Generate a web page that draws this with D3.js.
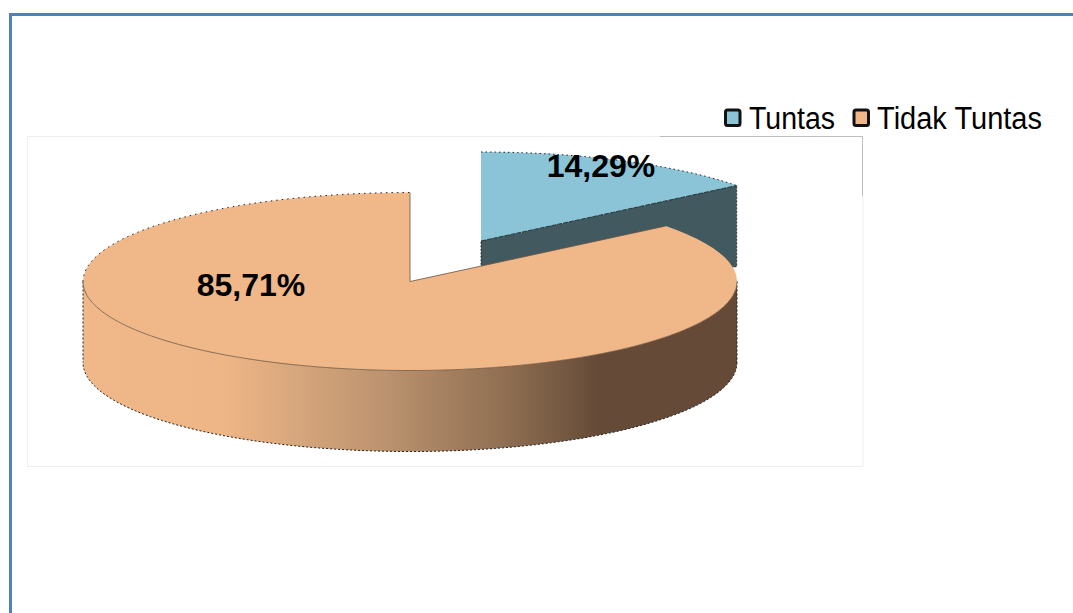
<!DOCTYPE html>
<html><head><meta charset="utf-8">
<script src="https://cdnjs.cloudflare.com/ajax/libs/d3/7.8.5/d3.min.js"></script>
<style>html,body{margin:0;padding:0;background:#fff;overflow:hidden}svg{display:block}text{font-family:"Liberation Sans",Arial,sans-serif}</style>
</head><body><svg width="1073" height="613"></svg>
<script>
const categories = ["Tuntas", "Tidak Tuntas"];
const values = [14.29, 85.71];
const labels = ["14,29%", "85,71%"];
const topColors = ["#8ac4d6", "#f0b888"];

const svg = d3.select("svg");
const rx = 327, ry = 89, depth = 81;
const centers = [{x: 481, y: 241}, {x: 410, y: 281.5}];
const labelPos = [{x: 601, y: 177}, {x: 251, y: 296}];

const defs = svg.append("defs");
const grad = defs.append("linearGradient").attr("id", "sideGrad").attr("gradientUnits", "userSpaceOnUse")
  .attr("x1", 83).attr("x2", 737).attr("y1", 0).attr("y2", 0);
[[0, "#f0b888"], [0.22, "#eeb586"], [0.33, "#d6a67c"], [0.454, "#bd9470"], [0.657, "#8c6c50"], [0.786, "#654b37"], [1, "#654b37"]]
  .forEach(([o, c]) => grad.append("stop").attr("offset", o).attr("stop-color", c));

// frame
svg.append("path").attr("d", "M10.5,613V14.5H1073").attr("fill", "none").attr("stroke", "#4f81bd").attr("stroke-width", 3);

// plot box
svg.append("path").attr("d", "M27.5,467V136.5H660").attr("fill", "none").attr("stroke", "#eeeeee");
svg.append("path").attr("d", "M27,466.5H863V196").attr("fill", "none").attr("stroke", "#eeeeee");
svg.append("path").attr("d", "M660,136.5H862.5V196").attr("fill", "none").attr("stroke", "#bdbdbd");

const pie = d3.pie().sort(null).value(d => d)(values);
const arc = d3.arc().innerRadius(0).outerRadius(rx);
const py = (c, a) => c.y - ry * Math.cos(a);
const px = (c, a) => c.x + rx * Math.sin(a);

function rimPoints(c, a0, a1) {
  return d3.range(0, 121).map(i => a0 + (a1 - a0) * i / 120).map(a => [px(c, a), py(c, a)]);
}
const line = d3.line();
const piece = svg.append("g");

// Tuntas: cut face and top
const c0 = centers[0], p0 = pie[0];
const endA = p0.endAngle;
piece.append("path")
  .attr("d", line([[c0.x, c0.y], [px(c0, endA), py(c0, endA)], [px(c0, endA), py(c0, endA) + depth], [c0.x, c0.y + depth]]) + "Z")
  .attr("fill", "#41595f").attr("stroke", "#222").attr("stroke-width", 0.8).attr("stroke-dasharray", "2 1.5");
piece.append("path")
  .attr("transform", `translate(${c0.x},${c0.y}) scale(1,${ry / rx})`)
  .attr("d", arc(p0)).attr("fill", topColors[0]);
piece.append("path").attr("d", line(rimPoints(c0, p0.startAngle, endA)))
  .attr("fill", "none").attr("stroke", "#222").attr("stroke-width", 1).attr("stroke-dasharray", "1.5 3");
piece.append("path").attr("d", line([[c0.x, c0.y], [px(c0, endA), py(c0, endA)]]))
  .attr("fill", "none").attr("stroke", "#27383c").attr("stroke-width", 1).attr("stroke-dasharray", "5 1");

// Tidak Tuntas: outer wall and top
const c1 = centers[1], p1 = pie[1];
const wallStart = Math.PI / 2, wallEnd = 3 * Math.PI / 2;
const frontRim = rimPoints(c1, wallStart, wallEnd);
const wall = frontRim.concat(frontRim.slice().reverse().map(([x, y]) => [x, y + depth]));
piece.append("path").attr("d", line(wall) + "Z").attr("fill", "url(#sideGrad)");
piece.append("path")
  .attr("d", line(frontRim.map(([x, y]) => [x, y + depth])))
  .attr("fill", "none").attr("stroke", "#222").attr("stroke-width", 1).attr("stroke-dasharray", "2 2");
[83, 737].forEach(x => piece.append("path")
  .attr("d", line([[x, c1.y], [x, c1.y + depth]]))
  .attr("fill", "none").attr("stroke", "#222").attr("stroke-width", 1).attr("stroke-dasharray", "2 2"));
piece.append("path")
  .attr("transform", `translate(${c1.x},${c1.y}) scale(1,${ry / rx})`)
  .attr("d", arc(p1)).attr("fill", topColors[1]);
piece.append("path").attr("d", line(frontRim)).attr("fill", "none").attr("stroke", "#6f5540").attr("stroke-width", 0.8);
piece.append("path").attr("d", line(rimPoints(c1, 3 * Math.PI / 2, 2 * Math.PI)))
  .attr("fill", "none").attr("stroke", "#222").attr("stroke-width", 1).attr("stroke-dasharray", "1.5 4");
piece.append("path").attr("d", line([[c1.x, c1.y - ry], [c1.x, c1.y], [px(c1, p1.startAngle), py(c1, p1.startAngle)]]))
  .attr("fill", "none").attr("stroke", "#6b5240").attr("stroke-width", 0.8);

// value labels
svg.append("g").selectAll("text").data(labels).join("text")
  .attr("x", (d, i) => labelPos[i].x).attr("y", (d, i) => labelPos[i].y)
  .attr("text-anchor", "middle").attr("font-size", 32).attr("font-weight", "bold").attr("fill", "#000").text(d => d);

// legend
const legendX = [725.5, 854], legendTextX = [749, 877], legendTextW = [86, 165];
const leg = svg.append("g");
leg.selectAll("rect").data(categories).join("rect")
  .attr("x", (d, i) => legendX[i]).attr("y", 110).attr("width", 14.5).attr("height", 15.5).attr("rx", 2)
  .attr("fill", (d, i) => topColors[i]).attr("stroke", "#111").attr("stroke-width", 3);
leg.selectAll("text").data(categories).join("text")
  .attr("x", (d, i) => legendTextX[i]).attr("y", 129).attr("font-size", 31)
  .attr("textLength", (d, i) => legendTextW[i]).attr("lengthAdjust", "spacingAndGlyphs")
  .attr("fill", "#000").text(d => d);
</script></body></html>
